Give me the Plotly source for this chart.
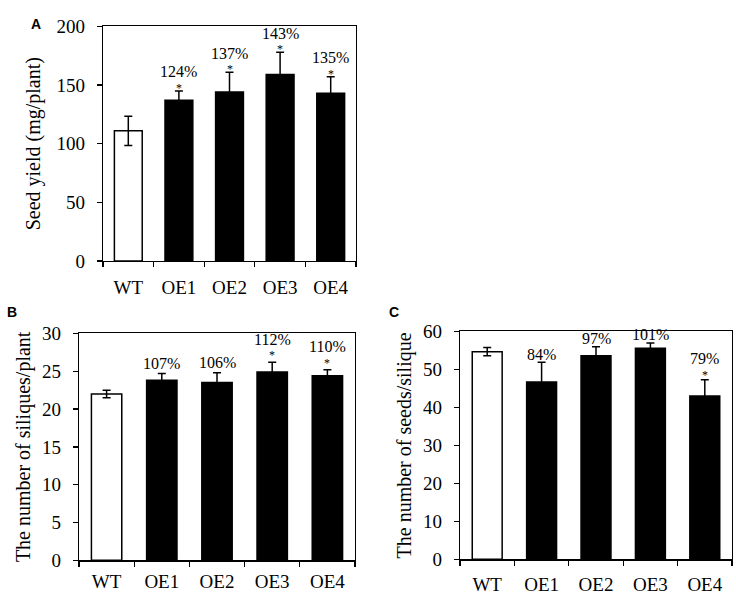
import plotly.graph_objects as go

categories = ["WT", "OE1", "OE2", "OE3", "OE4"]

yield_mean = [111, 137, 144, 159, 143]
yield_err = [12.5, 8, 17, 19, 14]
yield_pct = ["", "124%", "137%", "143%", "135%"]
yield_sig = [False, True, True, True, True]

siliques_mean = [22.0, 23.8, 23.5, 24.9, 24.4]
siliques_err = [0.5, 0.9, 1.3, 1.3, 0.8]
siliques_pct = ["", "107%", "106%", "112%", "110%"]
siliques_sig = [False, False, False, True, True]

seeds_mean = [54.7, 46.7, 53.6, 55.6, 43.0]
seeds_err = [1.1, 5.2, 2.4, 1.4, 4.3]
seeds_pct = ["", "84%", "97%", "101%", "79%"]
seeds_sig = [False, False, False, False, True]

bar_colors = ["white", "black", "black", "black", "black"]
SERIF = "Liberation Serif, Times New Roman, serif"

W, H = 736, 608
fig = go.Figure()

panels = [
    dict(mean=yield_mean, err=yield_err, pct=yield_pct, sig=yield_sig, xa="x", ya="y",
         box=(103, 356, 17, 260), yr=[0, 200], dt=50, title="Seed yield (mg/plant)",
         off=(19, 3, 10), xstand=9, tstand=10),
    dict(mean=siliques_mean, err=siliques_err, pct=siliques_pct, sig=siliques_sig, xa="x2", ya="y2",
         box=(79, 355, 335, 570), yr=[0, 30], dt=5, title="The number of siliques/plant",
         off=(23, 7, 10), xstand=4, tstand=6),
    dict(mean=seeds_mean, err=seeds_err, pct=seeds_pct, sig=seeds_sig, xa="x3", ya="y3",
         box=(460, 732, 333, 569), yr=[0, 60], dt=10, title="The number of seeds/silique",
         off=(21, 5, 8), xstand=8, tstand=6),
]

annotations = []
for i, p in enumerate(panels):
    fig.add_trace(go.Bar(
        x=categories, y=p["mean"], xaxis=p["xa"], yaxis=p["ya"],
        marker=dict(color=bar_colors, line=dict(color="black", width=1.5)),
        width=0.55,
        error_y=dict(type="data", array=p["err"], color="black", thickness=1.5, width=4),
        showlegend=False, hoverinfo="skip",
    ))
    l, r, t, b = p["box"]
    sfx = "" if i == 0 else str(i + 1)
    fig.layout["xaxis" + sfx] = dict(
        domain=[l / W, r / W], anchor=p["ya"], type="category", tickson="boundaries",
        ticks="outside", ticklen=5, tickwidth=1.3, tickcolor="black",
        showline=True, linecolor="black", linewidth=1.3, mirror=True, showgrid=False,
        tickfont=dict(family=SERIF, size=19, color="black"), ticklabelstandoff=p["xstand"],
        range=[-0.5, 4.5],
    )
    fig.layout["yaxis" + sfx] = dict(
        domain=[1 - b / H, 1 - t / H], anchor=p["xa"], range=p["yr"], dtick=p["dt"],
        ticks="outside", ticklen=5, tickwidth=1.3, tickcolor="black",
        showline=True, linecolor="black", linewidth=1.3, mirror=True,
        showgrid=False, zeroline=False,
        tickfont=dict(family=SERIF, size=19, color="black"), ticklabelstandoff=8,
        title=dict(text=p["title"], font=dict(family=SERIF, size=20, color="black"),
                   standoff=p["tstand"]),
    )
    for j in range(1, len(categories)):
        top = p["mean"][j] + p["err"][j]
        star = p["sig"][j]
        annotations.append(dict(
            x=categories[j], y=top, xref=p["xa"], yref=p["ya"], text=p["pct"][j],
            showarrow=False, yanchor="middle", yshift=p["off"][0] if star else p["off"][2],
            font=dict(family=SERIF, size=16, color="black"),
        ))
        if star:
            annotations.append(dict(
                x=categories[j], y=top, xref=p["xa"], yref=p["ya"], text="*",
                showarrow=False, yanchor="middle", yshift=p["off"][1],
                font=dict(family=SERIF, size=12, color="black"),
            ))

for letter, lx, ly in [("A", 36, 15), ("B", 12, 313), ("C", 394, 313)]:
    annotations.append(dict(
        x=lx / W, y=1 - ly / H, xref="paper", yref="paper", text="<b>%s</b>" % letter,
        showarrow=False, xanchor="center", yanchor="middle",
        font=dict(family="Liberation Sans, Arial, sans-serif", size=14, color="black"),
    ))

fig.update_layout(
    width=W, height=H, margin=dict(l=0, r=0, t=0, b=0),
    paper_bgcolor="white", plot_bgcolor="white", bargap=0.45,
    annotations=annotations, hovermode=False,
)

fig.write_html(
    "out.html",
    config={"displayModeBar": False, "staticPlot": True},
    post_script="document.documentElement.style.margin='0';document.body.style.margin='0';document.body.style.overflow='hidden';",
)
